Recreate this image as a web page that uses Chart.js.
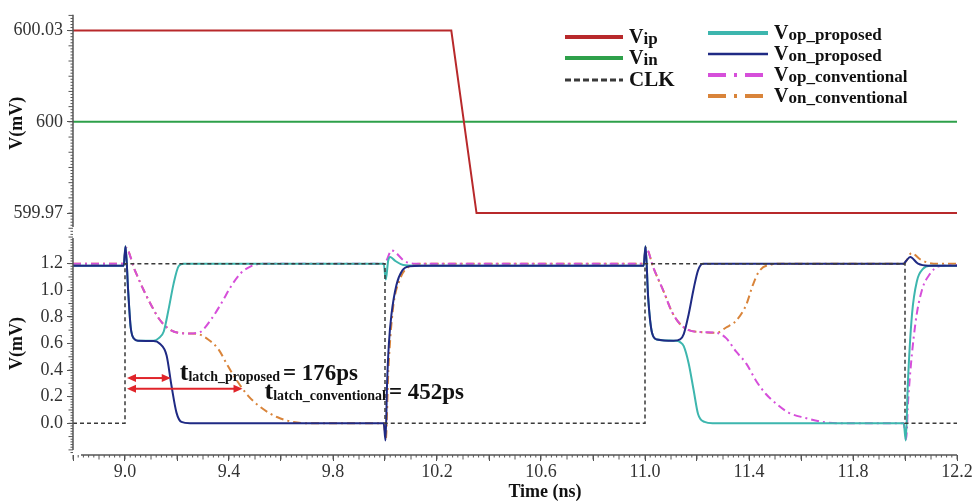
<!DOCTYPE html>
<html>
<head>
<meta charset="utf-8">
<title>Latch waveforms</title>
<script src="https://cdn.jsdelivr.net/npm/chart.js@4.4.1/dist/chart.umd.min.js"></script>
<style>
  html, body { margin: 0; padding: 0; background: #fff; }
  #wrap { width: 975px; height: 504px; }
</style>
</head>
<body>
<div id="wrap"><canvas id="chart" width="975" height="504"></canvas></div>
<script>
// ---- axes ----
const timeMin = 8.8, timeMax = 12.2;                 // ns
const timeTicks = [9.0, 9.4, 9.8, 10.2, 10.6, 11.0, 11.4, 11.8, 12.2];
const inputTicks = [599.97, 600, 600.03];             // mV
const outputTicks = [0.0, 0.2, 0.4, 0.6, 0.8, 1.0, 1.2];

// ---- latch delays (ps), measured from the clock edge ----
const clkEdge = 9.0;
const latchProposed = 176;
const latchConventional = 452;

// ---- inputs ----
const vipTime = [8.8, 10.255, 10.352, 12.2];
const vipValue = [600.03, 600.03, 599.97, 599.97];
const vinTime = [8.8, 12.2];
const vinValue = [600, 600];

// ---- clock ----
const clkTime = [8.8, 9.0, 9.0, 10.0, 10.0, 11.0, 11.0, 12.0, 12.0, 12.2];
const clkValue = [0, 0, 1.2, 1.2, 0, 0, 1.2, 1.2, 0, 0];

// ---- proposed latch outputs ----
const vopPropTime = [8.8, 8.995, 9.002, 9.012, 9.022, 9.035, 9.05, 9.11, 9.13, 9.149, 9.168, 9.187, 9.206, 9.225,
  9.995, 10.003, 10.012, 10.02, 10.04, 10.07, 10.12,
  10.995, 11.002, 11.012, 11.027, 11.046, 11.12, 11.135, 11.149, 11.168, 11.187, 11.204, 11.229, 11.26,
  11.995, 12.003, 12.011, 12.027, 12.046, 12.069, 12.095, 12.2];
const vopPropValue = [1.185, 1.185, 1.33, 1.0, 0.72, 0.635, 0.62, 0.62, 0.64, 0.69, 0.86, 1.05, 1.18, 1.2,
  1.2, 1.08, 1.22, 1.25, 1.22, 1.19, 1.185,
  1.185, 1.33, 0.95, 0.68, 0.63, 0.62, 0.61, 0.58, 0.45, 0.25, 0.07, 0.01, 0.0,
  0.0, -0.13, 0.3, 0.82, 1.07, 1.16, 1.185, 1.185];

const vonPropTime = [8.8, 8.995, 9.002, 9.012, 9.022, 9.035, 9.05, 9.11, 9.133, 9.16, 9.179, 9.198, 9.217, 9.25,
  9.995, 10.002, 10.008, 10.015, 10.025, 10.044, 10.067, 10.093, 10.14,
  10.995, 11.002, 11.012, 11.027, 11.046, 11.11, 11.135, 11.149, 11.168, 11.187, 11.204, 11.223, 11.26,
  11.995, 12.004, 12.02, 12.05, 12.09, 12.2];
const vonPropValue = [1.185, 1.185, 1.33, 1.0, 0.72, 0.635, 0.62, 0.618, 0.6, 0.51, 0.28, 0.08, 0.01, 0.0,
  0.0, -0.13, 0.3, 0.6, 0.82, 1.04, 1.15, 1.18, 1.185,
  1.185, 1.33, 0.95, 0.68, 0.63, 0.62, 0.63, 0.67, 0.82, 1.01, 1.15, 1.2, 1.2,
  1.2, 1.22, 1.25, 1.2, 1.185, 1.185];

// ---- conventional latch outputs ----
const vopConvTime = [8.8, 8.995, 9.003, 9.038, 9.072, 9.103, 9.133, 9.168, 9.206, 9.25, 9.275, 9.293, 9.331, 9.37, 9.408, 9.446, 9.484, 9.533,
  9.995, 10.005, 10.025, 10.075, 10.11,
  10.995, 11.003, 11.034, 11.072, 11.103, 11.133, 11.168, 11.22, 11.274, 11.312, 11.35, 11.389, 11.427, 11.465, 11.503, 11.552, 11.617, 11.682, 11.75,
  11.995, 12.004, 12.013, 12.04, 12.065, 12.095, 12.13, 12.2];
const vopConvValue = [1.2, 1.2, 1.32, 1.15, 1.0, 0.88, 0.78, 0.71, 0.68, 0.675, 0.68, 0.69, 0.78, 0.9, 1.03, 1.13, 1.18, 1.2,
  1.2, 1.22, 1.3, 1.22, 1.2,
  1.2, 1.32, 1.16, 0.99, 0.84, 0.75, 0.7, 0.685, 0.68, 0.64, 0.54, 0.45, 0.32, 0.22, 0.15, 0.08, 0.04, 0.01, 0.0,
  0.0, -0.12, 0.2, 0.75, 1.0, 1.12, 1.18, 1.19];

const vonConvTime = [8.8, 8.995, 9.003, 9.038, 9.072, 9.103, 9.133, 9.168, 9.206, 9.25, 9.282, 9.32, 9.358, 9.396, 9.434, 9.472, 9.522, 9.587, 9.648, 9.72,
  9.995, 10.003, 10.013, 10.03, 10.057, 10.095, 10.145,
  10.995, 11.003, 11.034, 11.072, 11.103, 11.133, 11.168, 11.22, 11.274, 11.312, 11.35, 11.389, 11.415, 11.438, 11.476, 11.53,
  11.995, 12.005, 12.025, 12.06, 12.11, 12.2];
const vonConvValue = [1.2, 1.2, 1.32, 1.15, 1.0, 0.88, 0.78, 0.71, 0.68, 0.675, 0.67, 0.63, 0.56, 0.43, 0.31, 0.21, 0.12, 0.045, 0.01, 0.0,
  0.0, -0.12, 0.4, 0.85, 1.08, 1.18, 1.2,
  1.2, 1.32, 1.16, 0.99, 0.84, 0.75, 0.7, 0.685, 0.68, 0.72, 0.77, 0.89, 1.04, 1.14, 1.19, 1.2,
  1.2, 1.22, 1.28, 1.23, 1.2, 1.2];

const pts = (ts, vs) => ts.map((t, i) => ({ x: t, y: vs[i] }));
const near = (list, v) => list.some(t => Math.abs(t - v) < 1e-6);

const SERIF = '"Liberation Serif", "Times New Roman", serif';
Chart.defaults.font.family = SERIF;

const DASH_DOT = [8, 4, 2, 4];

const datasets = [
  { label: 'Vip', data: pts(vipTime, vipValue), yAxisID: 'yTop', borderColor: '#B8292B', borderWidth: 2, tension: 0, order: 5 },
  { label: 'Vin', data: pts(vinTime, vinValue), yAxisID: 'yTop', borderColor: '#2EA04A', borderWidth: 2, tension: 0, order: 6 },
  { label: 'CLK', data: pts(clkTime, clkValue), yAxisID: 'y', borderColor: '#3a3a3a', borderWidth: 1.5, borderDash: [4, 3], tension: 0, order: 0 },
  { label: 'Vop_proposed', data: pts(vopPropTime, vopPropValue), yAxisID: 'y', borderColor: '#3DB6AE', borderWidth: 2, cubicInterpolationMode: 'monotone', order: 2 },
  { label: 'Von_proposed', data: pts(vonPropTime, vonPropValue), yAxisID: 'y', borderColor: '#1F2A84', borderWidth: 2, cubicInterpolationMode: 'monotone', order: 1 },
  { label: 'Vop_conventional', data: pts(vopConvTime, vopConvValue), yAxisID: 'y', borderColor: '#D64FDA', borderWidth: 2, borderDash: DASH_DOT, cubicInterpolationMode: 'monotone', order: 3 },
  { label: 'Von_conventional', data: pts(vonConvTime, vonConvValue), yAxisID: 'y', borderColor: '#D9843A', borderWidth: 2, borderDash: DASH_DOT, cubicInterpolationMode: 'monotone', order: 4 }
];

// text with a big leading letter and a smaller tail, left to right
function richText(ctx, x, y, parts) {
  parts.forEach(p => {
    x += p.gap || 0;
    ctx.font = `bold ${p.size}px ${SERIF}`;
    ctx.fillText(p.text, x, y + (p.dy || 0));
    x += ctx.measureText(p.text).width;
  });
  return x;
}

function arrow(ctx, x1, x2, y) {
  const head = 9, half = 4;
  ctx.beginPath();
  ctx.moveTo(x1 + head - 1, y);
  ctx.lineTo(x2 - head + 1, y);
  ctx.stroke();
  ctx.beginPath();
  ctx.moveTo(x1, y); ctx.lineTo(x1 + head, y - half); ctx.lineTo(x1 + head, y + half); ctx.closePath();
  ctx.moveTo(x2, y); ctx.lineTo(x2 - head, y - half); ctx.lineTo(x2 - head, y + half); ctx.closePath();
  ctx.fill();
}

// small ticks between the labelled ones
function minorTicks(ctx, scale, step, midEvery, vertical) {
  const i0 = Math.ceil(scale.min / step - 1e-6), i1 = Math.floor(scale.max / step + 1e-6);
  ctx.beginPath();
  for (let i = i0; i <= i1; i++) {
    const len = (i % midEvery === 0) ? 4.5 : 2.5;
    const p = scale.getPixelForValue(i * step);
    if (vertical) {
      ctx.moveTo(scale.right, p); ctx.lineTo(scale.right - len, p);
    } else {
      ctx.moveTo(p, scale.top); ctx.lineTo(p, scale.top + len);
    }
  }
  ctx.stroke();
}

const decor = {
  id: 'decor',
  afterDatasetsDraw(chart) {
    const { ctx, scales } = chart;
    const x = scales.x, y = scales.y;
    const x0 = x.getPixelForValue(clkEdge);
    const xp = x.getPixelForValue(clkEdge + latchProposed / 1000);
    const xc = x.getPixelForValue(clkEdge + latchConventional / 1000);
    const y1 = y.getPixelForValue(0.34), y2 = y.getPixelForValue(0.26);
    ctx.save();
    ctx.strokeStyle = '#E0242A';
    ctx.fillStyle = '#E0242A';
    ctx.lineWidth = 2;
    arrow(ctx, x0 + 2, xp, y1);
    arrow(ctx, x0 + 2, xc, y2);
    ctx.fillStyle = '#111';
    ctx.textBaseline = 'alphabetic';
    richText(ctx, xp + 9, y1 + 2, [
      { text: 't', size: 26 },
      { text: 'latch_proposed', size: 14, dy: 1 },
      { text: '= ' + latchProposed + 'ps', size: 23, gap: 3 }
    ]);
    richText(ctx, xc + 22, y2 + 10, [
      { text: 't', size: 26 },
      { text: 'latch_conventional', size: 14, dy: 1 },
      { text: '= ' + latchConventional + 'ps', size: 23, gap: 3 }
    ]);
    ctx.restore();
  },
  afterDraw(chart) {
    const { ctx, scales, chartArea } = chart;
    ctx.save();
    // axis lines, each panel on its own
    ctx.strokeStyle = '#555';
    ctx.lineWidth = 1.5;
    ctx.beginPath();
    ctx.moveTo(chartArea.left, scales.yTop.top);
    ctx.lineTo(chartArea.left, scales.yTop.bottom - 5);
    ctx.moveTo(chartArea.left, scales.y.top + 6);
    ctx.lineTo(chartArea.left, scales.y.bottom - 5);
    ctx.moveTo(chartArea.left + 8, chartArea.bottom);
    ctx.lineTo(chartArea.right, chartArea.bottom);
    ctx.stroke();
    ctx.lineWidth = 1;
    minorTicks(ctx, scales.yTop, 0.001, 5, true);
    minorTicks(ctx, scales.y, 0.02, 5, true);
    minorTicks(ctx, scales.x, 0.02, 5, false);

    // x axis title
    ctx.fillStyle = '#111';
    ctx.font = `bold 18px ${SERIF}`;
    ctx.textAlign = 'center';
    ctx.textBaseline = 'middle';
    ctx.fillText('Time (ns)', (chartArea.left + chartArea.right) / 2 + 30, 492);

    // legend in two columns
    ctx.textAlign = 'left';
    ctx.textBaseline = 'alphabetic';
    const cols = [
      { x: 565, len: 58, rows: [[0, 37], [1, 58], [2, 80]] },
      { x: 708, len: 60, rows: [[3, 33], [4, 54], [5, 75], [6, 96]] }
    ];
    cols.forEach(col => {
      col.rows.forEach(([idx, ly]) => {
        const ds = chart.data.datasets[idx];
        ctx.strokeStyle = ds.borderColor;
        if (ds.label === 'CLK') { ctx.lineWidth = 3; ctx.setLineDash([6, 3]); }
        else if (ds.borderDash) { ctx.lineWidth = 4; ctx.setLineDash([18, 8, 3, 8]); }
        else { ctx.lineWidth = ds.label === 'Von_proposed' ? 2.5 : 4; ctx.setLineDash([]); }
        ctx.beginPath();
        ctx.moveTo(col.x, ly);
        ctx.lineTo(col.x + col.len, ly);
        ctx.stroke();
        ctx.setLineDash([]);
        ctx.fillStyle = '#111';
        const tx = col.x + col.len + 6;
        if (ds.label === 'CLK') {
          richText(ctx, tx, ly + 6, [{ text: 'CLK', size: 21 }]);
        } else {
          richText(ctx, tx, ly + 6, [
            { text: ds.label[0], size: 20 },
            { text: ds.label.slice(1), size: 17, dy: 1 }
          ]);
        }
      });
    });
    ctx.restore();
  }
};

const tickFont = { family: SERIF, size: 18 };
const axisGrid = { display: true, drawOnChartArea: false, drawTicks: true, tickLength: 6, tickColor: '#555', tickWidth: 1 };

new Chart('chart', {
  type: 'line',
  data: { datasets },
  plugins: [decor],
  options: {
    responsive: false,
    animation: false,
    layout: { padding: { top: 11, right: 18, left: 0, bottom: 0 } },
    elements: { point: { radius: 0 } },
    plugins: { legend: { display: false }, tooltip: { enabled: false } },
    scales: {
      x: {
        type: 'linear',
        min: timeMin,
        max: timeMax,
        border: { display: false },
        grid: axisGrid,
        ticks: {
          stepSize: 0.2,
          autoSkip: false,
          maxRotation: 0,
          padding: 0,
          font: tickFont,
          color: '#333',
          callback: v => near(timeTicks, v) ? v.toFixed(1) : ''
        },
        afterFit: s => { s.height = 49; }
      },
      y: {
        type: 'linear',
        position: 'left',
        stack: 'panels',
        stackWeight: 225,
        min: -0.2385,
        max: 1.4385,
        border: { display: false },
        grid: axisGrid,
        title: { display: true, text: 'V(mV)', font: { family: SERIF, size: 18, weight: 'bold' }, color: '#111', padding: { top: 7, bottom: 0 } },
        ticks: {
          stepSize: 0.2,
          includeBounds: false,
          autoSkip: false,
          padding: 4,
          font: tickFont,
          color: '#333',
          callback: v => near(outputTicks, v) ? v.toFixed(1) : null
        },
        afterFit: s => { s.width = 73; }
      },
      yTop: {
        type: 'linear',
        position: 'left',
        stack: 'panels',
        stackWeight: 219,
        min: 599.9638,
        max: 600.0352,
        border: { display: false },
        grid: axisGrid,
        title: { display: true, text: 'V(mV)', font: { family: SERIF, size: 18, weight: 'bold' }, color: '#111', padding: { top: 7, bottom: 0 } },
        ticks: {
          stepSize: 0.03,
          includeBounds: false,
          autoSkip: false,
          padding: 4,
          font: tickFont,
          color: '#333',
          callback: v => near(inputTicks, v) ? String(+v.toFixed(2)) : null
        },
        afterFit: s => { s.width = 73; }
      }
    }
  }
});
</script>
</body>
</html>
